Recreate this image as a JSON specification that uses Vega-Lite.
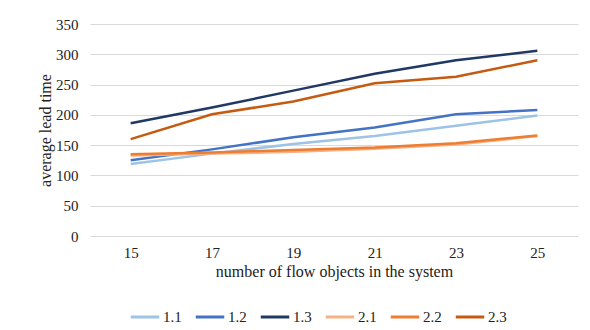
{
  "$schema": "https://vega.github.io/schema/vega-lite/v6.json",
  "autosize": {"type": "none"},
  "width": 488,
  "height": 212,
  "padding": {"left": 90, "top": 24, "right": 12, "bottom": 94},
  "config": {
    "font": "Liberation Serif",
    "view": {"stroke": null},
    "style": {"guide-label": {"font": "Liberation Serif", "fontSize": 15, "fill": "#222"}, "guide-title": {"font": "Liberation Serif", "fontSize": 16, "fill": "#222", "fontWeight": "normal"}}
  },
  "data": {"values": [
    {"n": 15, "s": "1.1", "v": 119}, {"n": 17, "s": "1.1", "v": 136}, {"n": 19, "s": "1.1", "v": 152}, {"n": 21, "s": "1.1", "v": 165}, {"n": 23, "s": "1.1", "v": 182}, {"n": 25, "s": "1.1", "v": 199},
    {"n": 15, "s": "1.2", "v": 125}, {"n": 17, "s": "1.2", "v": 143}, {"n": 19, "s": "1.2", "v": 163}, {"n": 21, "s": "1.2", "v": 179}, {"n": 23, "s": "1.2", "v": 201}, {"n": 25, "s": "1.2", "v": 208},
    {"n": 15, "s": "1.3", "v": 186}, {"n": 17, "s": "1.3", "v": 212}, {"n": 19, "s": "1.3", "v": 240}, {"n": 21, "s": "1.3", "v": 268}, {"n": 23, "s": "1.3", "v": 290}, {"n": 25, "s": "1.3", "v": 306},
    {"n": 15, "s": "2.1", "v": 133}, {"n": 17, "s": "2.1", "v": 136}, {"n": 19, "s": "2.1", "v": 139}, {"n": 21, "s": "2.1", "v": 144}, {"n": 23, "s": "2.1", "v": 151}, {"n": 25, "s": "2.1", "v": 165},
    {"n": 15, "s": "2.2", "v": 135}, {"n": 17, "s": "2.2", "v": 138}, {"n": 19, "s": "2.2", "v": 142}, {"n": 21, "s": "2.2", "v": 146}, {"n": 23, "s": "2.2", "v": 153}, {"n": 25, "s": "2.2", "v": 166},
    {"n": 15, "s": "2.3", "v": 160}, {"n": 17, "s": "2.3", "v": 201}, {"n": 19, "s": "2.3", "v": 222}, {"n": 21, "s": "2.3", "v": 252}, {"n": 23, "s": "2.3", "v": 263}, {"n": 25, "s": "2.3", "v": 290}
  ]},
  "mark": {"type": "line", "strokeWidth": 2.5},
  "encoding": {
    "x": {"field": "n", "type": "ordinal", "scale": {"type": "point", "padding": 0.5},
      "axis": {"title": "number of flow objects in the system", "labelFont": "Liberation Serif", "labelFontSize": 15, "titleFont": "Liberation Serif", "titleFontSize": 16, "titleFontWeight": "normal", "labelColor": "#222", "titleColor": "#222", "labelAngle": 0, "domain": false, "ticks": false, "grid": false, "labelPadding": 9, "titlePadding": 3}},
    "y": {"field": "v", "type": "quantitative", "scale": {"domain": [0, 350]},
      "axis": {"title": "average lead time", "labelFont": "Liberation Serif", "labelFontSize": 15, "titleFont": "Liberation Serif", "titleFontSize": 16, "titleFontWeight": "normal", "labelColor": "#222", "titleColor": "#222", "values": [0, 50, 100, 150, 200, 250, 300, 350], "domain": false, "ticks": false, "gridColor": "#d9d9d9", "gridWidth": 1, "labelPadding": 12, "titlePadding": 2}},
    "color": {"field": "s", "type": "nominal",
      "scale": {"domain": ["1.1", "1.2", "1.3", "2.1", "2.2", "2.3"], "range": ["#9DC3E6", "#4472C4", "#203864", "#F4B183", "#ED7D31", "#C55A11"]},
      "legend": {"title": null, "orient": "none", "legendX": 39, "legendY": 277, "direction": "horizontal", "symbolType": "stroke", "symbolSize": 812, "symbolStrokeWidth": 3, "labelOffset": 2, "columnPadding": 7, "labelFont": "Liberation Serif", "labelFontSize": 15, "labelColor": "#222"}}
  }
}
